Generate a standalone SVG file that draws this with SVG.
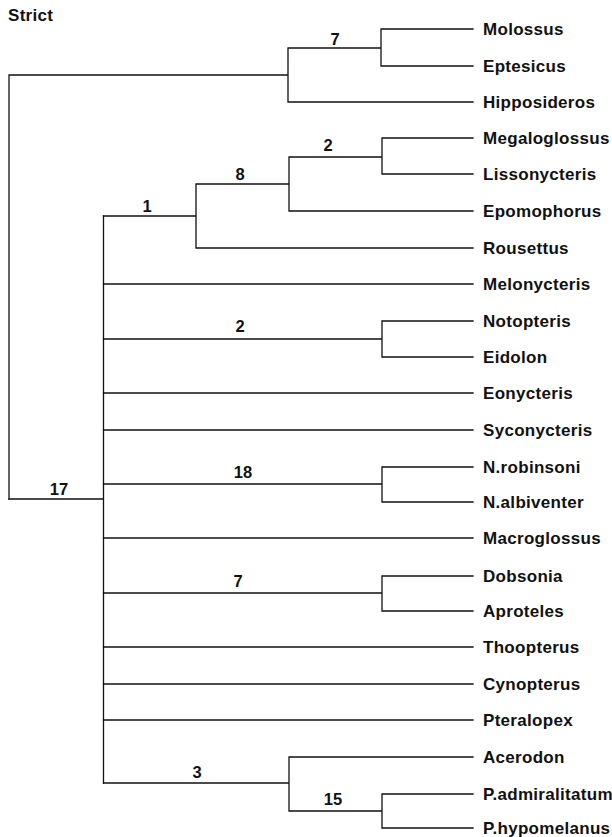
<svg xmlns="http://www.w3.org/2000/svg" width="612" height="837" viewBox="0 0 612 837">
<style>
.e{fill:none;stroke:#111;stroke-width:1.3;stroke-linecap:square}
.t{font-family:"Liberation Sans",Arial,sans-serif;font-weight:bold;font-size:17px;letter-spacing:0.3px;fill:#111}
.n{font-family:"Liberation Sans",Arial,sans-serif;font-weight:bold;font-size:16.5px;fill:#111;text-anchor:middle}
</style>
<rect width="612" height="837" fill="#fff"/>
<text class="t" x="8" y="21">Strict</text>
<g id="connectors" class="e">
<path d="M9,75V499M9,75H288M288,48V102M288,48H381M381,29V66M381,29H473M381,66H473M288,102H473"/>
<path d="M9,499H103.5M103.5,216V783"/>
<path d="M103.5,216H196M196,184V248M196,184H289M289,157V211M289,157H382M382,138V174M382,138H473M382,174H473M289,211H473M196,248H473"/>
<path d="M103.5,284H473"/>
<path d="M103.5,339H382M382,321V357M382,321H473M382,357H473"/>
<path d="M103.5,393H473M103.5,430H473"/>
<path d="M103.5,484H382M382,467V502M382,467H473M382,502H473"/>
<path d="M103.5,538H473"/>
<path d="M103.5,593H382M382,576V611M382,576H473M382,611H473"/>
<path d="M103.5,647H473M103.5,684H473M103.5,720H473"/>
<path d="M103.5,783H289M289,757V811M289,757H473M289,811H382M382,794V828M382,794H473M382,828H473"/>
</g>
<g id="clade-labels">
<text class="n" x="335" y="45">7</text>
<text class="n" x="59" y="495">17</text>
<text class="n" x="147" y="212">1</text>
<text class="n" x="240" y="180">8</text>
<text class="n" x="328" y="151">2</text>
<text class="n" x="240" y="332">2</text>
<text class="n" x="243" y="478">18</text>
<text class="n" x="238" y="587">7</text>
<text class="n" x="197" y="778">3</text>
<text class="n" x="333" y="805">15</text>
</g>
<g id="molossus"><text class="t" x="483" y="35">Molossus</text></g>
<g id="eptesicus"><text class="t" x="483" y="72">Eptesicus</text></g>
<g id="hipposideros"><text class="t" x="483" y="108">Hipposideros</text></g>
<g id="megaloglossus"><text class="t" x="483" y="144">Megaloglossus</text></g>
<g id="lissonycteris"><text class="t" x="483" y="180">Lissonycteris</text></g>
<g id="epomophorus"><text class="t" x="483" y="217">Epomophorus</text></g>
<g id="rousettus"><text class="t" x="483" y="254">Rousettus</text></g>
<g id="melonycteris"><text class="t" x="483" y="290">Melonycteris</text></g>
<g id="notopteris"><text class="t" x="483" y="327">Notopteris</text></g>
<g id="eidolon"><text class="t" x="483" y="363">Eidolon</text></g>
<g id="eonycteris"><text class="t" x="483" y="399">Eonycteris</text></g>
<g id="syconycteris"><text class="t" x="483" y="436">Syconycteris</text></g>
<g id="n-robinsoni"><text class="t" x="483" y="473">N.robinsoni</text></g>
<g id="n-albiventer"><text class="t" x="483" y="508">N.albiventer</text></g>
<g id="macroglossus"><text class="t" x="483" y="544">Macroglossus</text></g>
<g id="dobsonia"><text class="t" x="483" y="582">Dobsonia</text></g>
<g id="aproteles"><text class="t" x="483" y="617">Aproteles</text></g>
<g id="thoopterus"><text class="t" x="483" y="653">Thoopterus</text></g>
<g id="cynopterus"><text class="t" x="483" y="690">Cynopterus</text></g>
<g id="pteralopex"><text class="t" x="483" y="726">Pteralopex</text></g>
<g id="acerodon"><text class="t" x="483" y="763">Acerodon</text></g>
<g id="p-admiralitatum"><text class="t" x="483" y="800">P.admiralitatum</text></g>
<g id="p-hypomelanus"><text class="t" x="483" y="834">P.hypomelanus</text></g>
</svg>
